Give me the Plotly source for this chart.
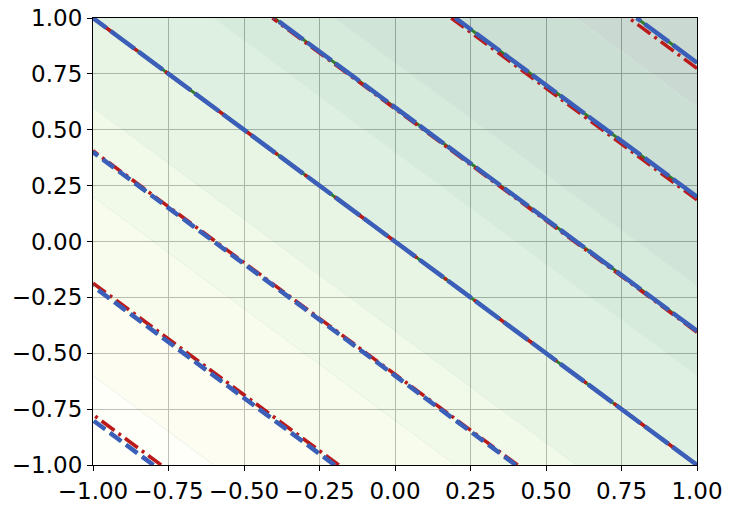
import plotly.graph_objects as go
import plotly.express as px

# grid of the surface (values at the corners / centre)
grid_x = [-1.0, 0.0, 1.0]
grid_y = [-1.0, 0.0, 1.0]
true_z = [[-2.0, -1.0, 0.0],
          [-1.0, 0.0, 1.0],
          [0.0, 1.0, 2.0]]
# noisy model: slightly shifted against the true surface
noisy_z = [[-2.03, -1.01, 0.0],
           [-1.01, 0.0, 1.01],
           [0.0, 1.01, 2.03]]
fit_z = [[-2.0, -1.0, 0.0],
         [-1.0, 0.0, 1.0],
         [0.0, 1.0, 2.0]]

bg_levels = [-2.0, 2.0, 0.4]          # start, end, step of the filled background
neg_levels = [-1.8, -1.2, -0.6]
pos_levels = [0.0, 0.6, 1.2, 1.8]
ticks = [-1.0, -0.75, -0.5, -0.25, 0.0, 0.25, 0.5, 0.75, 1.0]
tick_labels = ["\u22121.00", "\u22120.75", "\u22120.50", "\u22120.25",
               "0.00", "0.25", "0.50", "0.75", "1.00"]

FONT = "DejaVu Sans"


def level_lines(z, levels, color, width, dash):
    step = levels[1] - levels[0] if len(levels) > 1 else 1
    return go.Contour(
        x=grid_x, y=grid_y, z=z,
        autocontour=False,
        contours=dict(start=levels[0], end=levels[-1], size=step,
                      coloring="none", showlabels=False),
        line=dict(color=color, width=width, dash=dash),
        showscale=False, hoverinfo="skip",
    )


fig = go.Figure()

# background filled contour (YlGn, very transparent)
fig.add_trace(go.Contour(
    x=grid_x, y=grid_y, z=true_z,
    autocontour=False,
    contours=dict(start=bg_levels[0], end=bg_levels[1], size=bg_levels[2],
                  coloring="fill", showlines=True),
    colorscale=px.colors.sequential.YlGn,
    zmin=-1.8, zmax=1.8,
    line=dict(width=0.5, color="rgb(60,150,100)"),
    opacity=0.2, showscale=False, hoverinfo="skip",
))

# true surface (green), noisy (red dash-dot), fitted (blue)
fig.add_trace(level_lines(true_z, neg_levels, "#2e7d32", 3, "14px,6px"))
fig.add_trace(level_lines(true_z, pos_levels, "#2e7d32", 3, "solid"))
fig.add_trace(level_lines(noisy_z, neg_levels, "#bb1a1a", 3.5, "16px,5px,3px,5px"))
fig.add_trace(level_lines(noisy_z, pos_levels, "#bb1a1a", 3.5, "16px,5px,3px,5px"))
fig.add_trace(level_lines(fit_z, neg_levels, "#3b5fb8", 4.5, "14px,6px"))
fig.add_trace(level_lines(fit_z, pos_levels, "#3b5fb8", 4.5, "30px,5px"))

axis_style = dict(
    range=[-1, 1], tickvals=ticks, ticktext=tick_labels, tickangle=0,
    showgrid=True, gridcolor="#b0b0b0", gridwidth=1,
    zeroline=False, automargin=False,
    showline=True, linecolor="black", linewidth=1.2, mirror=True,
    ticks="outside", ticklen=5, tickwidth=1.1, tickcolor="black",
    tickfont=dict(family=FONT, size=23, color="black"),
)

fig.update_layout(
    width=732, height=509,
    margin=dict(l=93, r=35, t=18, b=44),
    paper_bgcolor="white", plot_bgcolor="white",
    showlegend=False,
    xaxis=axis_style,
    yaxis=axis_style,
)

fig.write_html("out.html", config={"displayModeBar": False},
               post_script="document.body.style.margin = '0px';")
